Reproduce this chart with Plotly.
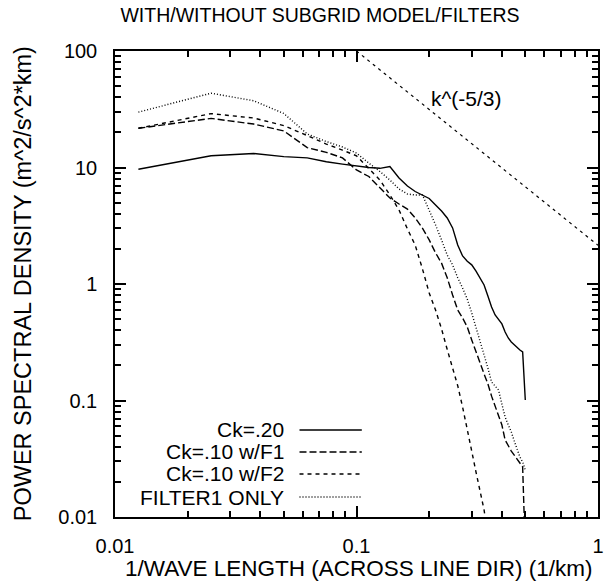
import numpy as np
import plotly.graph_objects as go

wavenumber = [0.0125, 0.025, 0.0375, 0.05, 0.0625, 0.075, 0.0875, 0.1, 0.1125, 0.125,
              0.1375, 0.15, 0.1625, 0.175, 0.1875, 0.2, 0.2125, 0.225, 0.2375, 0.25,
              0.2625, 0.275, 0.2875, 0.3, 0.3125, 0.325, 0.3375, 0.35, 0.3625, 0.375,
              0.3875, 0.4, 0.4125, 0.425, 0.4375, 0.45, 0.4625, 0.475, 0.4875, 0.5]

ck20 = [9.65, 12.6, 13.2, 12.4, 12.1, 11.2, 10.7, 10.3, 10.0, 9.84,
        10.2, 8.13, 6.94, 6.22, 5.81, 5.42, 4.77, 4.23, 3.69, 3.03,
        2.16, 1.74, 1.57, 1.46, 1.29, 1.13, 0.98, 0.79, 0.635, 0.542,
        0.50, 0.454, 0.387, 0.344, 0.318, 0.299, 0.282, 0.271, 0.261, 0.101]

ck10_f1 = [21.7, 26.4, 23.6, 20.6, 14.8, 13.5, 12.1, 9.52, 8.37, 6.67,
           5.47, 4.86, 4.40, 3.69, 3.02, 2.39, 1.85, 1.51, 1.13, 0.805,
           0.598, 0.511, 0.427, 0.331, 0.266, 0.210, 0.169, 0.139, 0.109, 0.0897,
           0.0736, 0.0616, 0.0458, 0.0407, 0.0368, 0.0340, 0.0315, 0.0291, 0.0269, 0.005]

ck10_f2 = [21.7, 29.0, 26.6, 22.9, 18.8, 15.9, 14.1, 12.6, 9.80, 7.81,
           5.81, 4.32, 2.97, 2.16, 1.35, 0.837, 0.598, 0.411, 0.274, 0.190,
           0.134, 0.0879, 0.0581, 0.0368, 0.0243, 0.0161, 0.0115, 0.007]

filter1_only = [29.9, 43.4, 37.4, 29.1, 19.4, 16.7, 15.0, 13.3, 10.9, 9.24,
                7.81, 6.54, 5.92, 5.81, 5.81, 4.32, 3.21, 2.39, 1.77, 1.46,
                1.13, 0.924, 0.743, 0.564, 0.427, 0.331, 0.246, 0.190, 0.144, 0.133,
                0.123, 0.093, 0.0722, 0.0616, 0.0537, 0.0449, 0.0384, 0.0327, 0.0297, 0.0253]

kolmo_x = [0.1, 1.0]
kolmo_y = [100.0, 2.15]

series_names = ["Ck=.20", "Ck=.10 w/F1", "Ck=.10 w/F2", "FILTER1 ONLY"]
x_tickvals = [0.01, 0.1, 1]
x_ticktext = ["0.01", "0.1", "1"]
y_tickvals = [0.01, 0.1, 1, 10, 100]
y_ticktext = ["0.01", "0.1", "1", "10", "100"]
x_minor = [m * d for d in [0.01, 0.1] for m in range(2, 10)]
y_minor = [m * d for d in [0.01, 0.1, 1, 10] for m in range(2, 10)]

FONT = "Liberation Sans, Arial, Helvetica, sans-serif"
dashes = ["solid", "7px,3px", "4px,4px", "1px,2px"]
LW = 1.4

fig = go.Figure()
for name, vals, dash in zip(series_names, [ck20, ck10_f1, ck10_f2, filter1_only], dashes):
    fig.add_trace(go.Scatter(x=wavenumber[:len(vals)], y=vals, mode="lines", name=name,
                             line=dict(color="black", width=LW, dash=dash),
                             showlegend=False))

fig.add_trace(go.Scatter(x=kolmo_x, y=kolmo_y, mode="lines", name="k^(-5/3)",
                         line=dict(color="black", width=1.2, dash="3px,4px"),
                         showlegend=False))

axis_common = dict(type="log", showline=True, linecolor="black", linewidth=1.5,
                   mirror="allticks", ticks="inside", tickcolor="black",
                   showgrid=False, zeroline=False,
                   tickfont=dict(family=FONT, size=20, color="black"))

fig.update_layout(
    width=613, height=588,
    margin=dict(l=115, r=9, t=51, b=71),
    paper_bgcolor="white", plot_bgcolor="white",
    font=dict(family=FONT, color="black"),
    xaxis=dict(range=[-2, 0], tickmode="array", tickvals=x_tickvals, ticktext=x_ticktext,
               ticklen=11, tickwidth=1.8, ticklabelstandoff=10,
               minor=dict(tickmode="array", tickvals=x_minor, ticks="inside",
                          ticklen=6, tickwidth=1.6, tickcolor="black"),
               **axis_common),
    yaxis=dict(range=[-2, 2], tickmode="array", tickvals=y_tickvals, ticktext=y_ticktext,
               ticklen=11, tickwidth=1.8, ticklabelstandoff=12,
               minor=dict(tickmode="array", tickvals=y_minor, ticks="inside",
                          ticklen=6, tickwidth=1.6, tickcolor="black"),
               **axis_common),
    title=dict(text="WITH/WITHOUT SUBGRID MODEL/FILTERS", x=0.522, xref="container",
               xanchor="center", y=1 - 15 / 588, yanchor="middle",
               font=dict(family=FONT, size=19.5, color="black")),
    showlegend=False,
)

annotations = [
    dict(text="1/WAVE LENGTH (ACROSS LINE DIR) (1/km)", xref="paper", yref="paper",
         x=0.506, y=-0.11, xanchor="center", yanchor="middle", showarrow=False,
         font=dict(family=FONT, size=22.5, color="black")),
    dict(text="POWER SPECTRAL DENSITY (m^2/s^2*km)", xref="paper", yref="paper",
         x=-0.19, y=0.5, xanchor="center", yanchor="middle", textangle=-90,
         showarrow=False, font=dict(family=FONT, size=23.5, color="black")),
    dict(text="k^(-5/3)", xref="x", yref="y", x=float(np.log10(0.2)), y=float(np.log10(39.5)),
         xanchor="left", yanchor="middle", showarrow=False,
         font=dict(family=FONT, size=21, color="black")),
]

shapes = []
key_rows_y = [0.1867, 0.1395, 0.0923, 0.0429]
for name, dash, ry in zip(series_names, dashes, key_rows_y):
    annotations.append(dict(text=name, xref="paper", yref="paper", x=0.354, y=ry,
                            xanchor="right", yanchor="middle", showarrow=False,
                            font=dict(family=FONT, size=21, color="black")))
    shapes.append(dict(type="line", xref="paper", yref="paper", x0=0.382, x1=0.511,
                       y0=ry, y1=ry, line=dict(color="black", width=LW, dash=dash)))

fig.update_layout(annotations=annotations, shapes=shapes)
fig.write_html("out.html")
